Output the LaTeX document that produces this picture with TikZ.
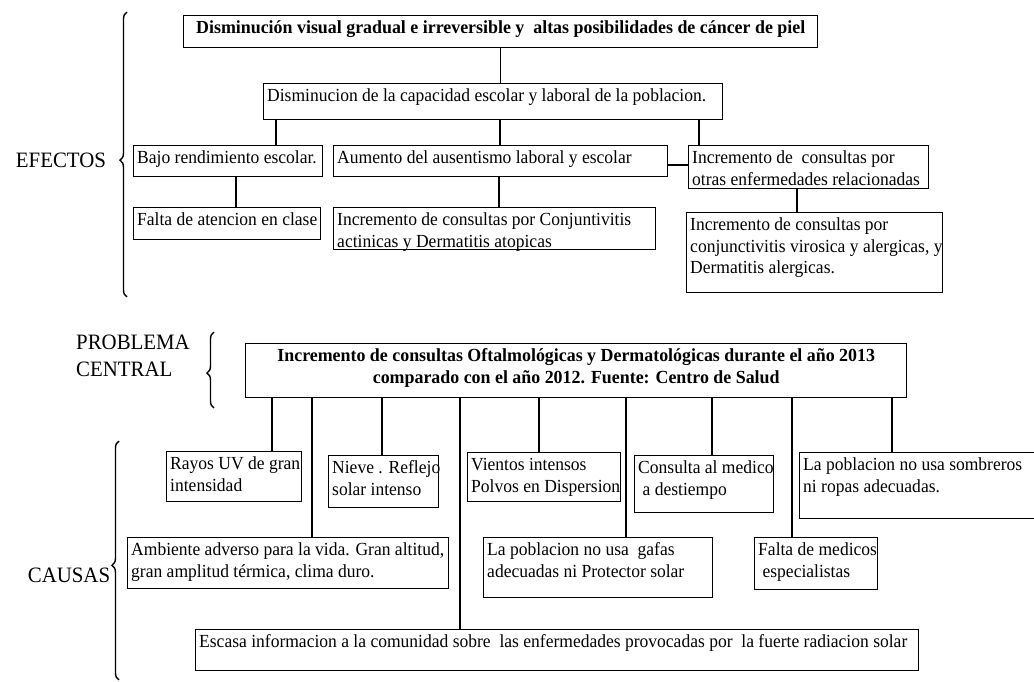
\documentclass[tikz,border=0pt]{standalone}
\usepackage{fontspec}
\setmainfont{Liberation Serif}[FakeStretch=0.95, BoldFeatures={FakeStretch=0.97}]
\usetikzlibrary{decorations.pathreplacing}
\newlength{\pxu}\setlength{\pxu}{0.02cm}
% texto arriba dentro de una caja de w x h (en px); #1 = l o c
\newcommand{\cajatext}[4][l]{\parbox[t][\dimexpr#3\pxu-4pt\relax][t]{\dimexpr#2\pxu-4pt\relax}{\if c#1\centering\fi\begin{tabular}[t]{@{}#1@{}}#4\end{tabular}}}
\tikzset{
  caja/.style={draw, thick, anchor=north west, inner sep=2pt, font=\fontsize{10.5}{12}\selectfont},
  cajabf/.style={caja, font=\bfseries\fontsize{10.5}{12}\selectfont},
  enlace/.style={semithick},
  llave/.style={thick, decorate, decoration={brace, amplitude=4pt, aspect=#1}},
  titulo/.style={font=\fontsize{12.5}{15}\selectfont, align=left},
}
\begin{document}
\begin{tikzpicture}[x=0.02cm, y=-0.02cm]
\useasboundingbox (0,0) rectangle (1034,682);

% efectos
\node(efectos) [titulo] at (61,160) {EFECTOS};
\draw[llave=0.48] (127,297) -- (127,12);
\node(top) [cajabf] at (183,15) {\cajatext[c]{634}{32}{Disminución visual gradual e irreversible y\ \ altas posibilidades de cáncer de piel}};
\node(dism) [caja] at (263,83) {\cajatext{459}{36}{Disminucion de la capacidad escolar y laboral de la poblacion.}};
\node(bajo) [caja] at (133,145) {\cajatext{189}{31}{Bajo rendimiento escolar.}};
\node(aumento) [caja] at (333,145) {\cajatext{334}{31}{Aumento del ausentismo laboral y escolar}};
\node(otras) [caja] at (688,145) {\cajatext{240}{43}{Incremento de\ \ consultas por\\otras enfermedades relacionadas}};
\node(falta) [caja] at (133,207) {\cajatext{187}{32}{Falta de atencion en clase}};
\node(actinicas) [caja] at (333,207) {\cajatext{322}{42}{Incremento de consultas por Conjuntivitis\\actinicas y Dermatitis atopicas}};
\node(virosica) [caja] at (686,212) {\cajatext{256}{80}{Incremento de consultas por\\conjunctivitis virosica y alergicas, y\\Dermatitis alergicas.}};

\draw[enlace] (top.south) -- (dism.north -| top.south);
\draw[enlace] (dism.south -| 276,0) -- (bajo.north -| 276,0);
\draw[enlace] (dism.south -| 500,0) -- (aumento.north -| 500,0);
\draw[enlace] (dism.south -| 699,0) -- (otras.north -| 699,0);
\draw[enlace] (aumento.east |- 0,165) -- (otras.west |- 0,165);
\draw[enlace] (bajo.south -| 236,0) -- (falta.north -| 236,0);
\draw[enlace] (aumento.south -| 499,0) -- (actinicas.north -| 499,0);
\draw[enlace] (otras.south -| 797,0) -- (virosica.north -| 797,0);

% problema central
\node(problema) [titulo, anchor=west] at (70,356) {PROBLEMA\\CENTRAL};
\draw[llave=0.46] (214,408) -- (214,332);
\node(central) [cajabf] at (245,343) {\cajatext[c]{661}{54}{Incremento de consultas Oftalmológicas y Dermatológicas durante el año 2013\\comparado con el año 2012. Fuente: Centro de Salud}};

% causas
\node(causas) [titulo] at (69,575) {CAUSAS};
\draw[llave=0.48] (119,680) -- (119,441);
\node(rayos) [caja] at (166,451) {\cajatext{135}{50}{Rayos UV de gran\\intensidad}};
\node(nieve) [caja] at (328,455) {\cajatext{110}{52}{Nieve . Reflejo\\solar intenso}};
\node(vientos) [caja] at (467,452) {\cajatext{153}{49}{Vientos intensos\\Polvos en Dispersion}};
\node(consulta) [caja] at (634,455) {\cajatext{139}{57}{Consulta al medico\\\ a destiempo}};
\node(sombreros) [caja] at (799,452) {\cajatext{245}{66}{La poblacion no usa sombreros\\ni ropas adecuadas.}};
\node(ambiente) [caja] at (127,537) {\cajatext{321}{51}{Ambiente adverso para la vida. Gran altitud,\\gran amplitud térmica, clima duro.}};
\node(gafas) [caja] at (483,537) {\cajatext{229}{60}{La poblacion no usa\ \ gafas\\adecuadas ni Protector solar}};
\node(medicos) [caja] at (754,537) {\cajatext{123}{52}{Falta de medicos\\\ especialistas}};
\node(escasa) [caja] at (195,629) {\cajatext{723}{41}{Escasa informacion a la comunidad sobre\ \ las enfermedades provocadas por\ \ la fuerte radiacion solar}};

\foreach \x/\hijo in {272/rayos, 312/ambiente, 382/nieve, 460/escasa, 539/vientos, 626/gafas, 712/consulta, 792/medicos, 892/sombreros}
  \draw[enlace] (central.south -| \x,0) -- (\hijo.north -| \x,0);
\end{tikzpicture}
\end{document}
